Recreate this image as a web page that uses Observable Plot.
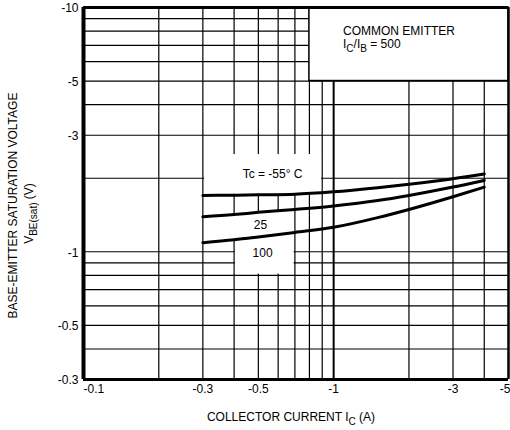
<!DOCTYPE html>
<html>
<head>
<meta charset="utf-8">
<script src="https://cdn.jsdelivr.net/npm/d3@7"></script>
<script src="https://cdn.jsdelivr.net/npm/@observablehq/plot@0.6"></script>
<style>
  html, body { margin: 0; padding: 0; background: #fff; }
  #chart svg { display: block; }
</style>
</head>
<body>
<div id="chart"></div>
<script>
// ---- data (values as printed on the chart: negative currents / voltages) ----
const collectorCurrent = [-0.3, -0.4, -0.5, -0.7, -1, -1.5, -2, -3, -4];
const vbeTcMinus55 = [-1.70, -1.705, -1.71, -1.72, -1.76, -1.83, -1.89, -1.99, -2.08];
const vbeTc25      = [-1.39, -1.42, -1.45, -1.49, -1.54, -1.62, -1.70, -1.84, -1.96];
const vbeTc100     = [-1.09, -1.12, -1.15, -1.20, -1.26, -1.38, -1.49, -1.68, -1.84];
const seriesNames = ["-55", "25", "100"];

const xTickValues = [-0.1, -0.3, -0.5, -1, -3, -5];
const yTickValues = [-0.3, -0.5, -1, -3, -5, -10];
const xGridValues = [-0.2, -0.3, -0.4, -0.5, -0.6, -0.7, -0.8, -0.9, -1, -2, -3, -4];
const yGridValues = [-0.4, -0.5, -0.6, -0.7, -0.8, -0.9, -1, -2, -3, -4, -5, -6, -7, -8, -9];
const xDomain = [-0.1, -5];
const yDomain = [-0.3, -10];

// blank (pasted-over) label areas of the original sheet, in data units
const blankRects = [
  {x1: -0.305, x2: -0.895, y1: -1.72, y2: -2.5},  // behind "Tc = -55° C"
  {x1: -0.405, x2: -0.695, y1: -0.81, y2: -1.2}   // behind "100"
];
const blankBand = [                                // behind "25"
  {x: -0.305, lo: -1.09, hi: -1.39},
  {x: -0.695, lo: -1.20, hi: -1.49}
];
const legendBox = [{x1: -0.8, x2: -5, y1: -5, y2: -10}];

const legendLines = [
  {x: -1.09, y: -8.0, text: "COMMON EMITTER"},
  {x: -1.09, y: -7.1, text: "I_{C}/I_{B} = 500"}
];
const curveLabels = [
  {x: -0.57, y: -2.08, text: "Tc = -55° C"},
  {x: -0.51, y: -1.29, text: "25"},
  {x: -0.52, y: -0.99, text: "100"}
];
const xTitle = "COLLECTOR CURRENT I_{C} (A)";
const yTitle1 = "BASE-EMITTER SATURATION VOLTAGE";
const yTitle2 = "V_{BE(sat)} (V)";

// ---- table built from the arrays ----
const vbeSeries = [vbeTcMinus55, vbeTc25, vbeTc100];
const curveRows = seriesNames.flatMap((name, s) =>
  collectorCurrent.map((x, i) => ({series: name, x, y: vbeSeries[s][i]})));

const fmt = d => String(d);
const nX = xTickValues.length;

const chart = Plot.plot({
  width: 510,
  height: 430,
  marginLeft: 83,
  marginRight: 2,
  marginTop: 7,
  marginBottom: 51,
  style: {
    fontFamily: "'Liberation Sans', Arial, Helvetica, sans-serif",
    fontSize: "12px",
    color: "black",
    background: "white",
    overflow: "visible"
  },
  x: {type: "log", domain: xDomain, axis: null},
  y: {type: "log", domain: yDomain, axis: null},
  marks: [
    // grid
    Plot.ruleX(xGridValues, {stroke: "black", strokeWidth: d => d === -1 ? 2 : 1.2}),
    Plot.ruleY(yGridValues, {stroke: "black", strokeWidth: 1.2}),
    // blanked label areas
    Plot.rect(blankRects, {x1: "x1", x2: "x2", y1: "y1", y2: "y2", fill: "white"}),
    Plot.areaY(blankBand, {x: "x", y1: "lo", y2: "hi", fill: "white"}),
    Plot.rect(legendBox, {x1: "x1", x2: "x2", y1: "y1", y2: "y2", fill: "white", stroke: "black", strokeWidth: 1.5}),
    // curves
    Plot.line(curveRows, {x: "x", y: "y", z: "series", stroke: "black", strokeWidth: 3, curve: "monotone-x"}),
    // frame
    Plot.ruleX([xDomain[0]], {stroke: "black", strokeWidth: 4}),
    Plot.ruleX([xDomain[1]], {stroke: "black", strokeWidth: 2.5}),
    Plot.ruleY([yDomain[0]], {stroke: "black", strokeWidth: 3}),
    Plot.ruleY([yDomain[1]], {stroke: "black", strokeWidth: 3}),
    // annotation texts
    Plot.text(legendLines, {x: "x", y: "y", text: "text", textAnchor: "start", fill: "black"}),
    Plot.text(curveLabels, {x: "x", y: "y", text: "text", fill: "black"}),
    // tick labels (through the scales)
    Plot.text(xTickValues.slice(0, 1), {x: d => d, text: fmt, frameAnchor: "bottom", textAnchor: "start", lineAnchor: "top", dy: 5, fill: "black"}),
    Plot.text(xTickValues.slice(1, nX - 1), {x: d => d, text: fmt, frameAnchor: "bottom", textAnchor: "middle", lineAnchor: "top", dy: 5, fill: "black"}),
    Plot.text(xTickValues.slice(nX - 1), {x: d => d, text: fmt, frameAnchor: "bottom", textAnchor: "end", lineAnchor: "top", dx: 2, dy: 5, fill: "black"}),
    Plot.text(yTickValues, {y: d => d, text: fmt, frameAnchor: "left", textAnchor: "end", lineAnchor: "middle", dx: -5, dy: 1, fill: "black"}),
    // axis titles
    Plot.text([xTitle], {text: d => d, frameAnchor: "bottom", textAnchor: "middle", lineAnchor: "middle", dx: -5, dy: 38, fill: "black"}),
    Plot.text([yTitle1], {text: d => d, frameAnchor: "left", textAnchor: "middle", lineAnchor: "middle", rotate: -90, dx: -70, dy: 12, fill: "black"}),
    Plot.text([yTitle2], {text: d => d, frameAnchor: "left", textAnchor: "middle", lineAnchor: "middle", rotate: -90, dx: -54, dy: 20, fill: "black"})
  ]
});

// turn "_{...}" into real subscripts
d3.select(chart).selectAll("text").each(function () {
  const s = this.textContent;
  if (!s.includes("_{")) return;
  const el = d3.select(this);
  el.text(null);
  let lowered = false;
  for (const p of s.split(/(_\{[^}]*\})/)) {
    if (!p) continue;
    const sub = p.startsWith("_{");
    const t = el.append("tspan").text(sub ? p.slice(2, -1) : p);
    if (sub) { t.attr("dy", 4).attr("font-size", "10px"); lowered = true; }
    else if (lowered) { t.attr("dy", -4); lowered = false; }
  }
});

document.getElementById("chart").append(chart);
</script>
</body>
</html>
